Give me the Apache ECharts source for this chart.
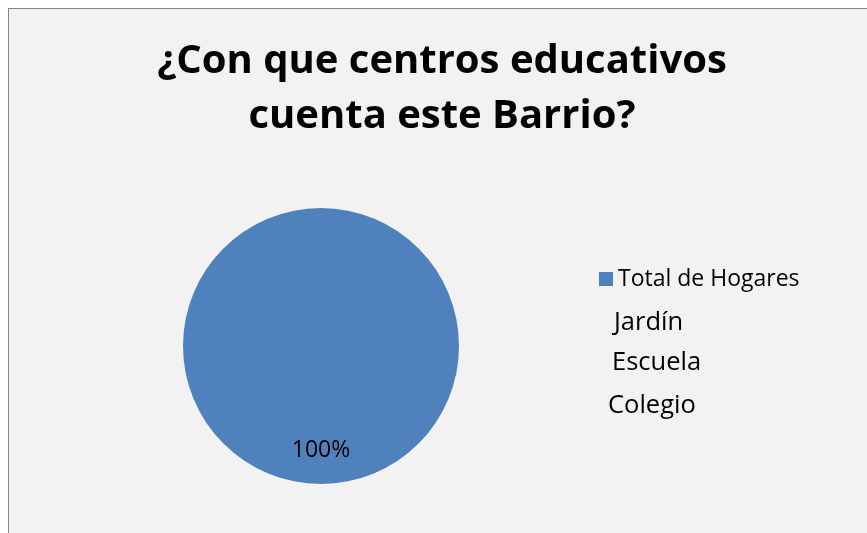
<!DOCTYPE html>
<html>
<head>
<meta charset="utf-8">
<script src="https://cdn.jsdelivr.net/npm/echarts@6/dist/echarts.min.js"></script>
<style>
  html, body { margin: 0; padding: 0; background: #ffffff; overflow: hidden; width: 867px; height: 533px; }
  #chart { position: absolute; left: 8px; top: 8px; width: 866px; height: 540px;
           background: #f2f2f2; border-left: 1px solid #868686; border-top: 1px solid #868686; }
</style>
</head>
<body>
<div id="chart"></div>
<script>
// Pie of households by education centre
const chartTitle = '¿Con que centros educativos\ncuenta este Barrio?';
const categories = ['Total de Hogares', 'Jardín', 'Escuela', 'Colegio'];
const values = [100, 0, 0, 0];
const sliceColor = '#4f81bd';

const FONT = '"Open Sans", sans-serif';
const pieData = categories.map((name, i) => ({ name, value: values[i] }));

const chart = echarts.init(document.getElementById('chart'), null, { renderer: 'canvas' });

// one legend block per entry so each line can sit where it belongs
const legendSpots = [
  { icon: 'rect', left: 590, top: 258, size: 23, w: 14 },
  { icon: 'none', left: 600, top: 301, size: 25.5, w: 0 },
  { icon: 'none', left: 598, top: 341, size: 25.5, w: 0 },
  { icon: 'none', left: 594, top: 384, size: 25.5, w: 0 }
];

chart.setOption({
  animation: false,
  backgroundColor: 'transparent',
  color: [sliceColor, sliceColor, sliceColor, sliceColor],
  title: {
    text: chartTitle,
    left: 'center',
    top: 20,
    textStyle: { fontFamily: FONT, fontWeight: 'bold', fontSize: 40, lineHeight: 55, color: '#000' }
  },
  legend: legendSpots.map((s, i) => ({
    data: [{ name: categories[i], icon: s.icon }],
    left: s.left,
    top: s.top,
    padding: 0,
    itemWidth: s.w,
    itemHeight: 14,
    selectedMode: false,
    textStyle: { fontFamily: FONT, fontSize: s.size, lineHeight: 24, color: '#000' }
  })),
  series: [
    {
      type: 'pie',
      center: [312, 337],
      radius: [0, 138],
      startAngle: 90,
      silent: true,
      label: { show: false },
      labelLine: { show: false },
      itemStyle: { color: sliceColor },
      data: pieData
    },
    {
      // transparent ring that only carries the percentage label
      type: 'pie',
      center: [312, 337],
      radius: [64, 138],
      startAngle: 90,
      silent: true,
      itemStyle: { color: 'rgba(0,0,0,0)' },
      label: {
        show: true,
        position: 'inside',
        formatter: p => (p.value > 0 ? p.percent + '%' : ''),
        fontFamily: FONT,
        fontSize: 23,
        color: '#000'
      },
      labelLine: { show: false },
      data: pieData
    }
  ]
});
</script>
</body>
</html>
